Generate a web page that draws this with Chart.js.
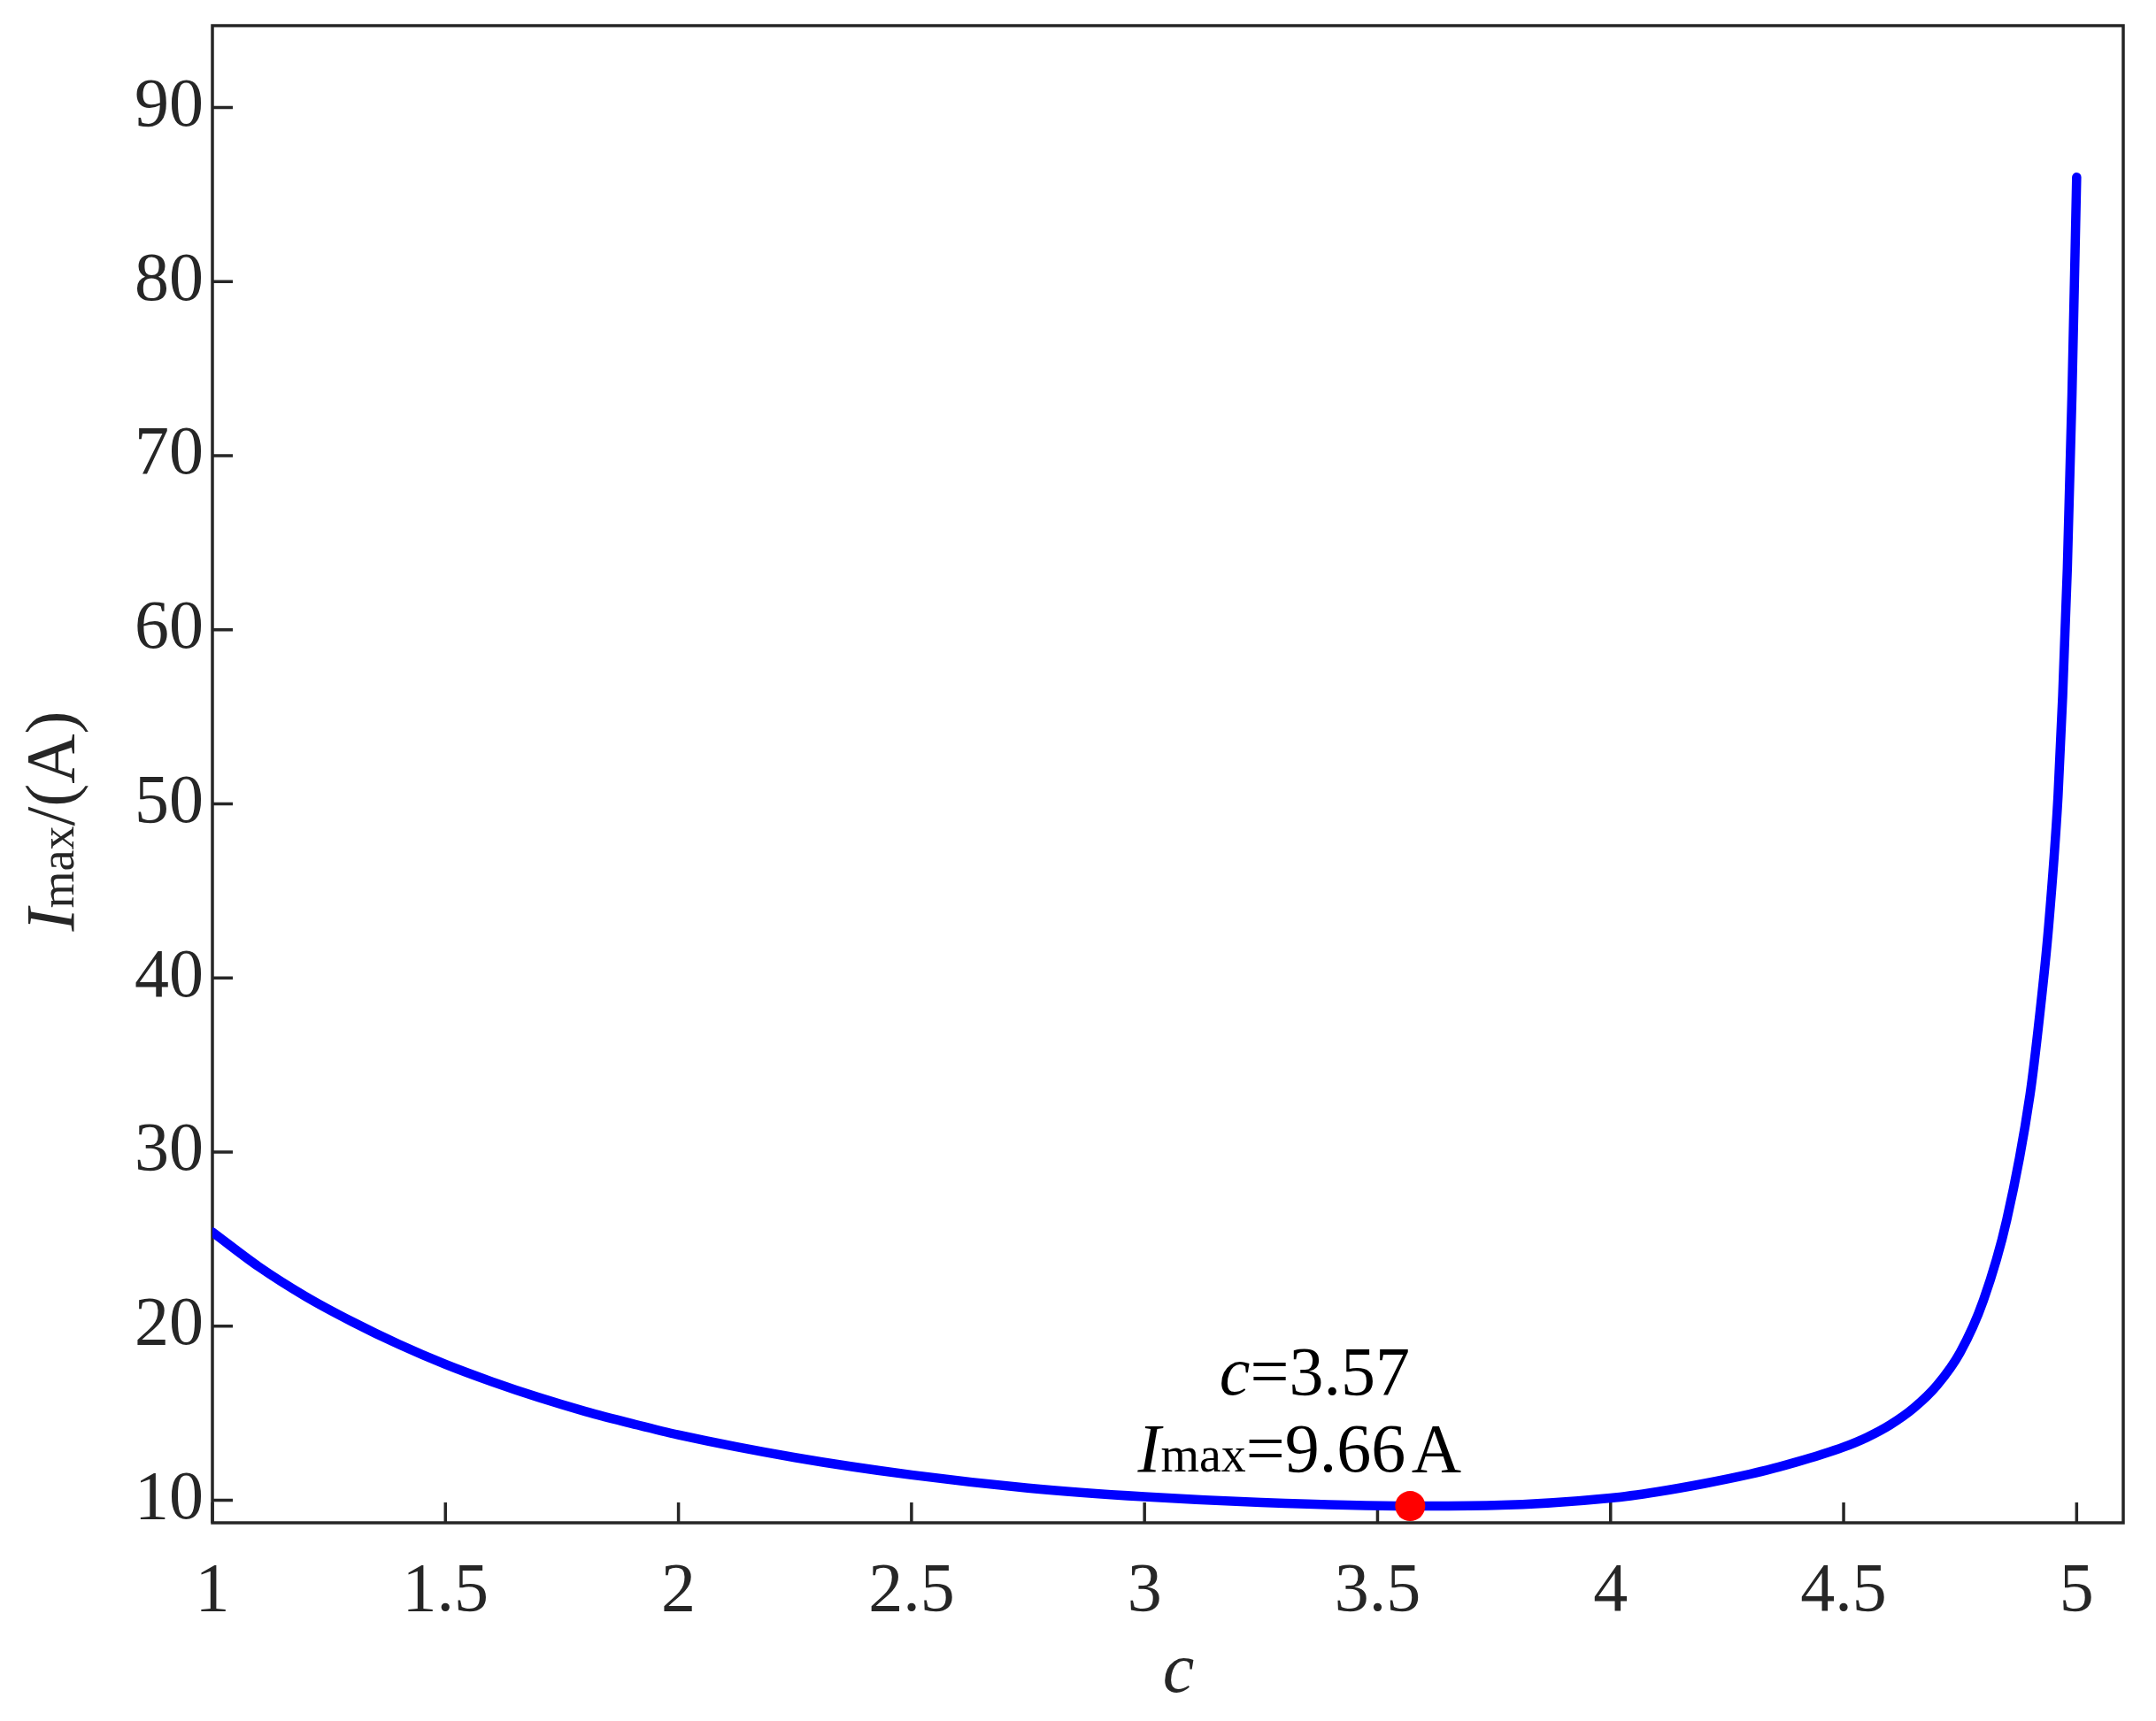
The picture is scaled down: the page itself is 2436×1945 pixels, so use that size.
<!DOCTYPE html>
<html>
<head>
<meta charset="utf-8">
<script src="https://cdn.jsdelivr.net/npm/chart.js@4"></script>
<style>
html,body{margin:0;padding:0;background:#fff}
#wrap{width:2436px;height:1945px;position:relative}
</style>
</head>
<body>
<div id="wrap"><canvas id="imaxChart" width="2436" height="1945"></canvas></div>
<script>
// values
const cValues = [1.0, 1.1, 1.2, 1.3, 1.4, 1.5, 1.6, 1.7, 1.8, 1.9, 2.0, 2.25, 2.5, 2.75, 3.0, 3.25, 3.57, 3.75, 4.0, 4.1, 4.2, 4.3, 4.35, 4.4, 4.45, 4.5, 4.55, 4.6, 4.65, 4.7, 4.75, 4.8, 4.85, 4.9, 4.92, 4.94, 4.96, 4.97, 4.98, 4.99, 5.0]
const iValues = [25.4, 23.4, 21.7, 20.25, 18.95, 17.8, 16.8, 15.9, 15.1, 14.4, 13.75, 12.45, 11.45, 10.7, 10.2, 9.87, 9.66, 9.7, 10.12, 10.48, 10.95, 11.5, 11.83, 12.2, 12.6, 13.05, 13.61, 14.33, 15.28, 16.58, 18.48, 21.48, 26.1, 33.3, 37.7, 43.0, 50.4, 56.2, 63.5, 73.5, 86.0]

const minC = [3.57]
const minI = [9.66]

const xTicks = [1, 1.5, 2, 2.5, 3, 3.5, 4, 4.5, 5]
const yTicks = [10, 20, 30, 40, 50, 60, 70, 80, 90]

const serif = "'Liberation Serif', 'DejaVu Serif', serif"
const axisColor = "#262626"

let curve = cValues.map((c,i)=>({x:c,y:iValues[i]}))
let minPoint = minC.map((c,i)=>({x:c,y:minI[i]}))

// draw pieces of text one after another: [text, font]
function drawRuns(ctx, runs, cx, baseline){
  let total = 0
  runs.forEach(r=>{ ctx.font = r[1]; total += ctx.measureText(r[0]).width })
  let x = cx - total/2
  runs.forEach(r=>{
    ctx.font = r[1]
    ctx.fillText(r[0], x, baseline)
    x += ctx.measureText(r[0]).width
  })
}

function noPad(s){
  s.paddingTop = 0
  s.paddingBottom = 0
  s.paddingLeft = 0
  s.paddingRight = 0
}

const frame = {
  id:"frame",
  beforeDatasetsDraw(chart){
    const {ctx, chartArea:a, scales:{x,y}} = chart
    ctx.save()
    ctx.strokeStyle = axisColor
    ctx.lineWidth = 3.5
    ctx.beginPath()
    xTicks.forEach(v=>{
      let px = x.getPixelForValue(v)
      ctx.moveTo(px, a.bottom)
      ctx.lineTo(px, a.bottom-23)
    })
    yTicks.forEach(v=>{
      let py = y.getPixelForValue(v)
      ctx.moveTo(a.left, py)
      ctx.lineTo(a.left+23, py)
    })
    ctx.stroke()
    ctx.lineJoin = "miter"
    ctx.strokeRect(a.left, a.top, a.right-a.left, a.bottom-a.top)
    ctx.restore()
  },
  afterDraw(chart){
    const {ctx, chartArea:a, scales:{x,y}} = chart
    ctx.save()
    ctx.textBaseline = "alphabetic"

    // x axis title
    ctx.fillStyle = axisColor
    drawRuns(ctx, [["c", "italic 80px "+serif]], (a.left+a.right)/2 + 12, 1912)

    // y axis title, rotated
    ctx.translate(83, 928)
    ctx.rotate(-Math.PI/2)
    drawRuns(ctx, [
      ["I", "italic 78px "+serif],
      ["max", "54px "+serif],
      ["/(A)", "78px "+serif]
    ], 0, 0)
    ctx.setTransform(1,0,0,1,0,0)

    // note at the minimum
    let px = x.getPixelForValue(minC[0])
    let py = y.getPixelForValue(minI[0])
    ctx.fillStyle = "#000"
    drawRuns(ctx, [
      ["c", "italic 78px "+serif],
      ["="+minC[0].toFixed(2), "78px "+serif]
    ], px-108, py-126)
    drawRuns(ctx, [
      ["I", "italic 78px "+serif],
      ["max", "56px "+serif],
      ["="+minI[0].toFixed(2)+"\u200aA", "78px "+serif]
    ], px-125, py-39)
    ctx.restore()
  }
}

let ctx = document.getElementById("imaxChart")

new Chart(ctx,{
  type:"line",
  data:{
    datasets:[
      {
        label:"minimum",
        data:minPoint,
        showLine:false,
        pointRadius:17,
        pointBackgroundColor:"#ff0000",
        pointBorderWidth:0,
        order:0
      },
      {
        label:"Imax",
        data:curve,
        borderColor:"#0000ff",
        borderWidth:10.5,
        borderCapStyle:"round",
        borderJoinStyle:"round",
        pointRadius:0,
        fill:false,
        cubicInterpolationMode:"monotone",
        order:1
      }
    ]
  },
  options:{
    responsive:false,
    animation:false,
    events:[],
    layout:{padding:{left:0,right:37,top:29,bottom:0}},
    plugins:{legend:{display:false},tooltip:{enabled:false}},
    scales:{
      x:{
        type:"linear",
        min:1,
        max:5.1,
        afterBuildTicks(s){ s.ticks = xTicks.map(v=>({value:v})) },
        afterFit(s){ s.height = 224; noPad(s) },
        grid:{display:false,drawTicks:false},
        border:{display:false},
        ticks:{
          padding:32,
          maxRotation:0,
          autoSkip:false,
          color:axisColor,
          font:{family:serif,size:78},
          callback:v=>String(v)
        }
      },
      y:{
        type:"linear",
        min:8.7,
        max:94.7,
        afterBuildTicks(s){ s.ticks = yTicks.map(v=>({value:v})) },
        afterFit(s){ s.width = 240; noPad(s) },
        grid:{display:false,drawTicks:false},
        border:{display:false},
        ticks:{
          padding:10,
          autoSkip:false,
          color:axisColor,
          font:{family:serif,size:78},
          callback:v=>String(v)
        }
      }
    }
  },
  plugins:[frame]
})
</script>
</body>
</html>
